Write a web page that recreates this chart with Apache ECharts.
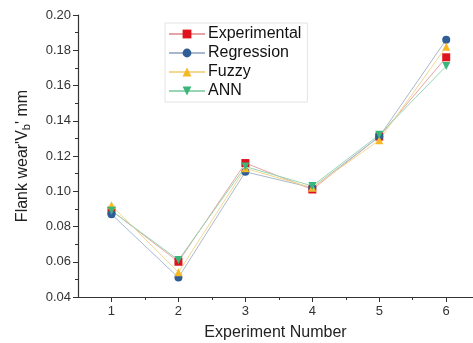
<!DOCTYPE html>
<html>
<head>
<meta charset="utf-8">
<script src="https://cdn.jsdelivr.net/npm/echarts@6/dist/echarts.min.js"></script>
<style>html,body{margin:0;padding:0;background:#fff}#c{width:473px;height:343px}</style>
</head>
<body>
<div id="c"></div>
<script>
const experiments = [1, 2, 3, 4, 5, 6];
const experimental = [0.089, 0.060, 0.116, 0.101, 0.131, 0.176];
const regression   = [0.087, 0.051, 0.111, 0.102, 0.131, 0.186];
const fuzzy        = [0.092, 0.054, 0.113, 0.102, 0.129, 0.182];
const ann          = [0.089, 0.061, 0.114, 0.103, 0.132, 0.171];
const xTicks = [1, 2, 3, 4, 5, 6];
const xMinorTicks = [1.5, 2.5, 3.5, 4.5, 5.5];

const font = '"Liberation Sans", Arial, sans-serif';
function mk(name, vals, color, lineColor, symbol, rot) {
  return {
    name: name, type: 'line',
    data: experiments.map((x, i) => [x, vals[i]]),
    symbol: symbol, symbolSize: 8, symbolRotate: rot || 0,
    itemStyle: { color: color },
    lineStyle: { color: lineColor, width: 1 },
    z: 3
  };
}
const chart = echarts.init(document.getElementById('c'));
chart.setOption({
  animation: false,
  textStyle: { fontFamily: font },
  grid: { left: 78, top: 15, right: 0, bottom: 46, outerBoundsMode: 'none', containLabel: false },
  legend: {
    orient: 'vertical', left: 165, top: 23,
    padding: [3, 6, 3, 3], itemGap: 3, itemWidth: 36, itemHeight: 11,
    borderColor: '#e4e4e4', borderWidth: 1,
    textStyle: { fontSize: 16, color: '#111', fontFamily: font, padding: [0, 0, 0, -2] },
    data: ['Experimental', 'Regression', 'Fuzzy', 'ANN']
  },
  xAxis: [{
    type: 'value', min: 0.5, max: 6.4,
    splitLine: { show: false },
    axisLine: { onZero: false, lineStyle: { color: '#333', width: 1.2 } },
    axisTick: { customValues: xTicks, length: 5, lineStyle: { color: '#333' } },
    axisLabel: { customValues: xTicks, fontSize: 13, color: '#333', margin: 8, fontFamily: font },
    name: 'Experiment Number', nameLocation: 'middle', nameGap: 28,
    nameTextStyle: { fontSize: 16, color: '#222', fontFamily: font }
  }, {
    type: 'value', min: 0.5, max: 6.4, position: 'bottom',
    splitLine: { show: false },
    axisLine: { show: false, onZero: false },
    axisTick: { customValues: xMinorTicks, length: 3, lineStyle: { color: '#333' } },
    axisLabel: { show: false }
  }],
  yAxis: {
    type: 'value', min: 0.04, max: 0.20, interval: 0.02,
    splitLine: { show: false },
    axisLine: { show: true, lineStyle: { color: '#333', width: 1.2 } },
    axisTick: { show: true, length: 5, lineStyle: { color: '#333' } },
    minorTick: { show: true, splitNumber: 2, length: 3, lineStyle: { color: '#333' } },
    axisLabel: { fontSize: 13, color: '#333', margin: 7, fontFamily: font, formatter: v => v.toFixed(2) },
    name: "Flank wear'V{s|b}' mm", nameLocation: 'middle', nameGap: 46,
    nameTextStyle: { fontSize: 16, color: '#222', fontFamily: font,
      rich: { s: { fontSize: 11, verticalAlign: 'bottom', padding: [8, 0, 0, 0], fontFamily: font, color: '#222' } } }
  },
  series: [
    mk('Experimental', experimental, '#e0121c', '#e8a4a4', 'rect'),
    mk('Regression', regression, '#2f5d96', '#a8b8cc', 'circle'),
    mk('Fuzzy', fuzzy, '#f6b925', '#f2d88e', 'triangle'),
    mk('ANN', ann, '#3bb67a', '#96d6b4', 'triangle', 180)
  ]
});
</script>
</body>
</html>
